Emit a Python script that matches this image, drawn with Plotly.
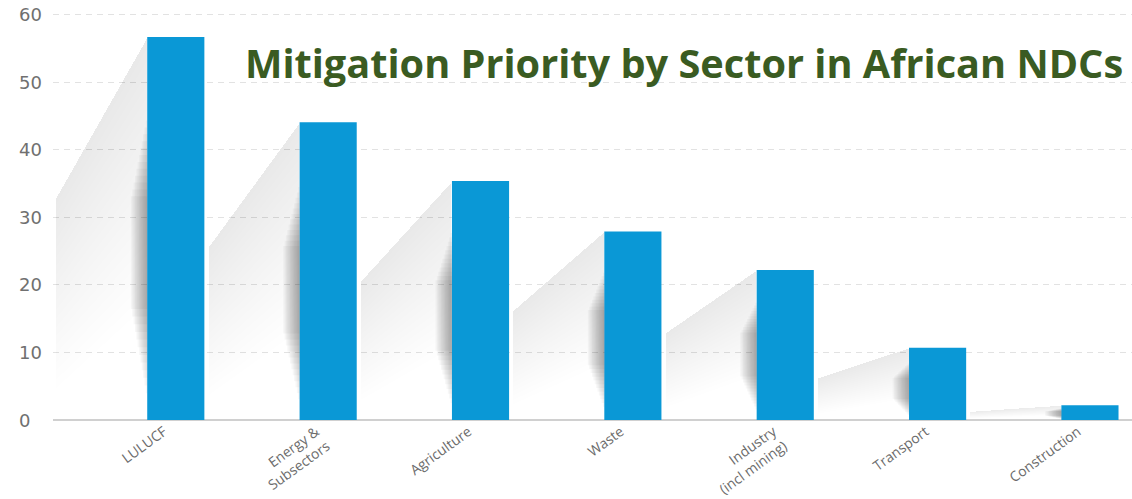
import plotly.graph_objects as go

# Sector categories (line breaks as shown on the axis)
sectors = [
    "LULUCF",
    "Energy &<br>Subsectors",
    "Agriculture",
    "Waste",
    "Industry<br>(incl mining)",
    "Transport",
    "Construction",
]
# Number of NDCs prioritising each sector
priority = [56.7, 44.1, 35.4, 27.9, 22.2, 10.7, 2.2]
# Value-axis ticks
y_ticks = [0, 10, 20, 30, 40, 50, 60]

title_text = "Mitigation Priority by Sector in African NDCs"

BAR_W = 0.375
BAR_COLOR = "#0A98D6"
TEXT_GREY = "#6b6b6b"

fig = go.Figure()

# Decorative cast shadows behind each bar, layered to fake a soft gradient
for i, v in enumerate(priority):
    x0 = i - BAR_W / 2
    dx = 0.6
    dy = 0.42 * v
    n = 22
    for k in range(1, n + 1):
        depth = v * 0.5 * k / n
        fig.add_trace(go.Scatter(
            x=[x0, x0 - dx, x0 - dx, x0, x0],
            y=[v, v - dy, max(v - dy - depth, 0), max(v - depth * 1.4, 0), v],
            mode="lines", fill="toself",
            fillcolor="rgba(0,0,0,0.0055)", line=dict(width=0),
            hoverinfo="skip", showlegend=False,
        ))
    # darker blur hugging the bar's left side
    m = 12
    for j in range(1, m + 1):
        w = 0.009 * j
        lo = v * (0.05 + 0.02 * j)
        hi = v * (0.80 - 0.018 * j)
        if hi <= lo:
            continue
        fig.add_trace(go.Scatter(
            x=[x0 - w, x0, x0, x0 - w, x0 - w],
            y=[lo, lo, hi, hi, lo],
            mode="lines", fill="toself",
            fillcolor="rgba(0,0,0,0.03)", line=dict(width=0),
            hoverinfo="skip", showlegend=False,
        ))

# The bars themselves
fig.add_trace(go.Bar(
    x=list(range(len(sectors))),
    y=priority,
    width=BAR_W,
    marker=dict(color=BAR_COLOR, line=dict(width=0)),
    showlegend=False,
    hovertemplate="%{y}<extra></extra>",
))

PLOT_LEFT = 53
PLOT_W = 1132 - PLOT_LEFT
PLOT_TOP = 8
PLOT_BOTTOM = 420
PLOT_H = PLOT_BOTTOM - PLOT_TOP

# Left-aligned value-axis labels
annotations = [
    dict(
        x=(17 - PLOT_LEFT) / PLOT_W, xref="paper", xanchor="left",
        y=t, yref="y", yanchor="middle",
        text=str(t), showarrow=False,
        font=dict(family="DejaVu Sans", size=18, color="#707070"),
    )
    for t in y_ticks
]
annotations.append(dict(
    x=1.0 - 7 / PLOT_W, xref="paper", xanchor="right",
    y=(PLOT_BOTTOM - 63) / PLOT_H, yref="paper", yanchor="middle",
    text=f"<b>{title_text}</b>", showarrow=False,
    font=dict(family="Open Sans", size=39.7, color="#3a5b22"),
))

fig.update_layout(
    width=1132, height=499,
    margin=dict(l=PLOT_LEFT, r=0, t=PLOT_TOP, b=499 - PLOT_BOTTOM),
    paper_bgcolor="white", plot_bgcolor="white",
    bargap=0.625,
    annotations=annotations,
    xaxis=dict(
        range=[-0.806, 6.276],
        tickmode="array",
        tickvals=list(range(len(sectors))),
        ticktext=sectors,
        tickangle=-36,
        ticklabelshift=-12,
        ticklabelstandoff=0,
        tickfont=dict(family="Open Sans", size=14, color=TEXT_GREY),
        showgrid=False, zeroline=False, showline=False, ticks="",
        automargin=False,
    ),
    yaxis=dict(
        range=[0, 61],
        tickvals=y_ticks,
        showticklabels=False,
        showgrid=True, gridcolor="#e2e2e2", gridwidth=1, griddash="6px,5px",
        zeroline=True, zerolinecolor="#d0d0d0", zerolinewidth=1.5,
        showline=False, ticks="",
        automargin=False,
    ),
)

fig.write_html("out.html")
